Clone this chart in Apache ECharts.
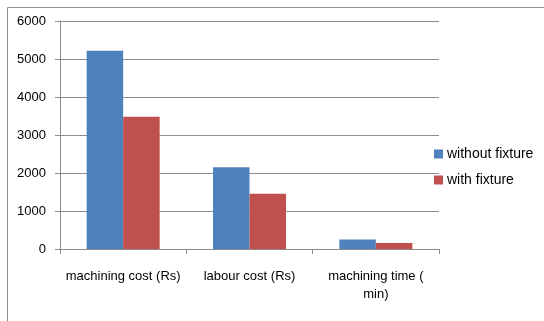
<!DOCTYPE html>
<html><head><meta charset="utf-8">
<script src="https://cdn.jsdelivr.net/npm/echarts@6/dist/echarts.min.js"></script>
<style>html,body{margin:0;padding:0;background:#fff}#c{width:544px;height:321px}</style>
</head><body><div id="c"></div>
<script>
const categories = ['machining cost (Rs)', 'labour cost (Rs)', 'machining time ( min)'];
const categoryLabels = ['machining cost (Rs)', 'labour cost (Rs)', 'machining time (\nmin)'];
const withoutFixture = [5220, 2150, 250];
const withFixture = [3480, 1455, 160];
const seriesNames = ['without fixture', 'with fixture'];
const yTicks = [0, 1000, 2000, 3000, 4000, 5000, 6000];

const chart = echarts.init(document.getElementById('c'));
const font = 'Liberation Sans';
chart.setOption({
  animation: false,
  textStyle: { fontFamily: font },
  graphic: [{
    type: 'rect', shape: { x: 7.5, y: 7.5, width: 600, height: 400 },
    style: { fill: 'none', stroke: '#8c8c8c', lineWidth: 1 }, silent: true, z: -1
  }],
  grid: { left: 60, top: 21, right: 105, bottom: 72 },
  legend: {
    orient: 'vertical', left: 434, top: 147, padding: 0, itemWidth: 9, itemHeight: 9, itemGap: 12,
    icon: 'rect', data: seriesNames,
    textStyle: { fontFamily: font, fontSize: 14, color: '#000', padding: [0, 0, 0, -1] }
  },
  xAxis: {
    type: 'category', data: categories,
    axisLine: { lineStyle: { color: '#8c8c8c' } },
    axisTick: { show: true, length: 5, lineStyle: { color: '#8c8c8c' } },
    axisLabel: {
      color: '#000', fontSize: 13, margin: 18, lineHeight: 18, interval: 0,
      formatter: (v, i) => categoryLabels[i]
    }
  },
  yAxis: {
    type: 'value', min: yTicks[0], max: yTicks[yTicks.length - 1], interval: 1000,
    axisLine: { show: true, lineStyle: { color: '#8c8c8c' } },
    axisTick: { show: true, length: 5, lineStyle: { color: '#8c8c8c' } },
    splitLine: { lineStyle: { color: '#8c8c8c' } },
    axisLabel: { color: '#000', fontSize: 13, margin: 14, formatter: v => String(v) }
  },
  series: [
    { name: seriesNames[0], type: 'bar', data: withoutFixture, barWidth: 36.5, barGap: '0%',
      itemStyle: { color: '#4F81BD' } },
    { name: seriesNames[1], type: 'bar', data: withFixture, barWidth: 36.5, barGap: '0%',
      itemStyle: { color: '#C0504D' } }
  ]
});
</script></body></html>
